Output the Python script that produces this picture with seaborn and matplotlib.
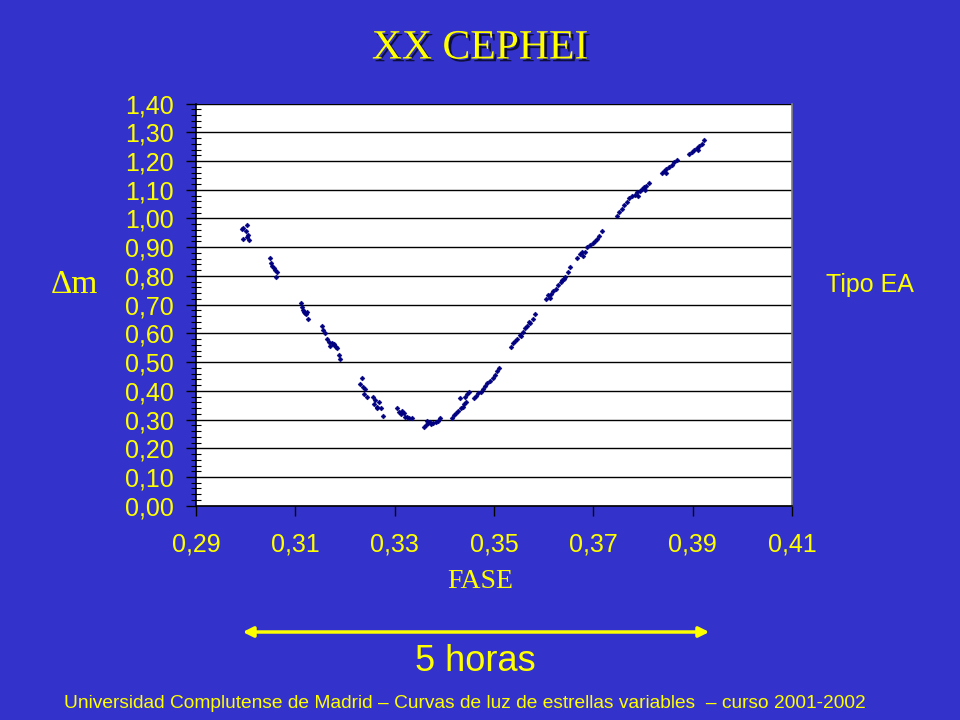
import numpy as np
import pandas as pd
import seaborn as sns
import matplotlib.pyplot as plt
import matplotlib.patheffects as pe
from matplotlib.patches import FancyArrowPatch
from matplotlib.ticker import MultipleLocator, FuncFormatter

fase_bajada = [0.2993, 0.2995, 0.2995, 0.3001, 0.3002, 0.3003, 0.3005, 0.3007,
               0.3048, 0.3050, 0.3053, 0.3056, 0.3059, 0.3062, 0.3064,
               0.3111, 0.3113, 0.3115, 0.3117, 0.3120, 0.3122, 0.3124, 0.3125,
               0.3153, 0.3156, 0.3160, 0.3164, 0.3168, 0.3170, 0.3173, 0.3177, 0.3178,
               0.3182, 0.3184, 0.3187, 0.3189,
               0.3230, 0.3234, 0.3236, 0.3238, 0.3240, 0.3244, 0.3256, 0.3258, 0.3260,
               0.3264, 0.3265, 0.3269, 0.3272, 0.3277,
               0.3304, 0.3309, 0.3312, 0.3314, 0.3318, 0.3321, 0.3325, 0.3329, 0.3334]
dm_bajada = [0.964, 0.968, 0.929, 0.957, 0.978, 0.934, 0.941, 0.925,
             0.864, 0.845, 0.833, 0.827, 0.821, 0.798, 0.815,
             0.705, 0.693, 0.682, 0.674, 0.670, 0.667, 0.674, 0.651,
             0.624, 0.612, 0.601, 0.581, 0.569, 0.557, 0.566, 0.562, 0.560,
             0.554, 0.548, 0.525, 0.511,
             0.423, 0.446, 0.415, 0.388, 0.407, 0.380, 0.380, 0.353, 0.368,
             0.339, 0.345, 0.360, 0.339, 0.314,
             0.339, 0.328, 0.318, 0.330, 0.322, 0.310, 0.310, 0.304, 0.307]

fase_minimo = [0.3359, 0.3363, 0.3366, 0.3368, 0.3371, 0.3374, 0.3378, 0.3383, 0.3388, 0.3391]
dm_minimo = [0.275, 0.281, 0.295, 0.287, 0.291, 0.284, 0.287, 0.293, 0.295, 0.307]

fase_subida = [0.3415, 0.3419, 0.3423, 0.3428, 0.3432, 0.3433, 0.3437, 0.3440, 0.3442, 0.3444,
               0.3446, 0.3450, 0.3460, 0.3464, 0.3468, 0.3473, 0.3477, 0.3482, 0.3486, 0.3492,
               0.3497, 0.3502, 0.3507, 0.3511,
               0.3534, 0.3538, 0.3542, 0.3547, 0.3552, 0.3555, 0.3558, 0.3562, 0.3567, 0.3570,
               0.3572, 0.3578, 0.3583,
               0.3605, 0.3609, 0.3613, 0.3614, 0.3619, 0.3625, 0.3629, 0.3634, 0.3637, 0.3640,
               0.3643, 0.3648, 0.3652,
               0.3668, 0.3673, 0.3678, 0.3680, 0.3683, 0.3688, 0.3693, 0.3699, 0.3703, 0.3708,
               0.3712, 0.3717,
               0.3747, 0.3752, 0.3757, 0.3762, 0.3767, 0.3772, 0.3777, 0.3784, 0.3787, 0.3790,
               0.3793, 0.3797, 0.3802, 0.3804, 0.3807, 0.3813,
               0.3838, 0.3842, 0.3846, 0.3847, 0.3853, 0.3858, 0.3862, 0.3868,
               0.3893, 0.3898, 0.3903, 0.3908, 0.3911, 0.3913, 0.3918, 0.3923]
dm_subida = [0.307, 0.316, 0.322, 0.330, 0.374, 0.339, 0.345, 0.353, 0.380, 0.362,
             0.388, 0.397, 0.374, 0.383, 0.392, 0.397, 0.407, 0.418, 0.427, 0.435,
             0.444, 0.455, 0.469, 0.481,
             0.554, 0.566, 0.575, 0.580, 0.595, 0.591, 0.606, 0.618, 0.626, 0.641,
             0.636, 0.649, 0.668,
             0.719, 0.734, 0.723, 0.738, 0.746, 0.754, 0.769, 0.780, 0.785, 0.790,
             0.798, 0.815, 0.830,
             0.862, 0.877, 0.882, 0.870, 0.885, 0.900, 0.908, 0.914, 0.923, 0.928,
             0.940, 0.955,
             1.009, 1.021, 1.033, 1.048, 1.059, 1.071, 1.077, 1.083, 1.091, 1.079,
             1.097, 1.102, 1.109, 1.100, 1.114, 1.123,
             1.158, 1.167, 1.160, 1.172, 1.179, 1.187, 1.195, 1.204,
             1.225, 1.233, 1.239, 1.245, 1.237, 1.251, 1.260, 1.272]

x_ticks = [0.29, 0.31, 0.33, 0.35, 0.37, 0.39, 0.41]

df = pd.DataFrame({
    "fase": fase_bajada + fase_minimo + fase_subida,
    "dm": dm_bajada + dm_minimo + dm_subida,
})

# ---- estilo ----
fondo = "#3333CC"
amarillo = "#FFFF00"
sns.set_style("white")
plt.rcParams["font.family"] = ["Liberation Sans", "DejaVu Sans"]

fig = plt.figure(figsize=(9.6, 7.2), dpi=100, facecolor=fondo)
ax = fig.add_axes([0.2042, 0.2976, 0.6208, 0.5585])
ax.set_facecolor("white")

sns.scatterplot(data=df, x="fase", y="dm", ax=ax, marker="D", s=6,
                color="#000080", edgecolor="#000080", linewidth=0.4, zorder=3)

ax.set_xlim(0.29, 0.41)
ax.set_ylim(0.0, 1.40)
ax.set_xticks(x_ticks)
ax.yaxis.set_major_locator(MultipleLocator(0.10))
ax.yaxis.set_minor_locator(MultipleLocator(0.02))
coma = FuncFormatter(lambda v, p: f"{v:.2f}".replace(".", ","))
ax.xaxis.set_major_formatter(coma)
ax.yaxis.set_major_formatter(coma)

ax.grid(axis="y", which="major", color="black", linewidth=1.0)
ax.set_axisbelow(True)
ax.set_xlabel("")
ax.set_ylabel("")

for s in ["left", "bottom"]:
    ax.spines[s].set_color("black")
    ax.spines[s].set_linewidth(1.2)
ax.spines["top"].set_visible(False)
ax.spines["right"].set_color("#808080")
ax.spines["right"].set_linewidth(1.2)

ax.tick_params(axis="both", which="major", direction="out", length=7, width=1,
               color="black", labelcolor=amarillo, labelsize=18, left=True, bottom=True)
ax.tick_params(axis="y", which="major", pad=9)
ax.tick_params(axis="x", which="major", pad=12)
ax.tick_params(axis="y", which="minor", direction="inout", length=7, width=0.8,
               color="black", left=True)

# ---- textos ----
fig.text(0.5, 0.933, "XX CEPHEI", ha="center", va="center", color=amarillo,
         fontsize=30, family=["Liberation Serif", "DejaVu Serif"],
         path_effects=[pe.withSimplePatchShadow(offset=(2, -2), shadow_rgbFace="black", alpha=0.7)])
fig.text(0.078, 0.604, "\u0394m", ha="center", va="center", color=amarillo,
         fontsize=24, family=["Liberation Serif", "DejaVu Serif"])
fig.text(0.5, 0.192, "FASE", ha="center", va="center", color=amarillo,
         fontsize=20, family=["Liberation Serif", "DejaVu Serif"])
fig.text(0.906, 0.604, "Tipo EA", ha="center", va="center", color=amarillo, fontsize=18)

fig.patches.append(FancyArrowPatch(
    (240 / 960, 1 - 632 / 720), (712 / 960, 1 - 632 / 720), transform=fig.transFigure,
    arrowstyle="<|-|>,head_length=6,head_width=3", color=amarillo, linewidth=2.5,
    mutation_scale=1))
fig.text(0.495, 0.081, "5 horas", ha="center", va="center", color=amarillo, fontsize=26)
fig.text(0.484, 0.0236,
         "Universidad Complutense de Madrid \u2013 Curvas de luz de estrellas variables  \u2013 curso 2001-2002",
         ha="center", va="center", color=amarillo, fontsize=13.8)

fig.savefig("out.png", dpi=100, facecolor=fondo)
